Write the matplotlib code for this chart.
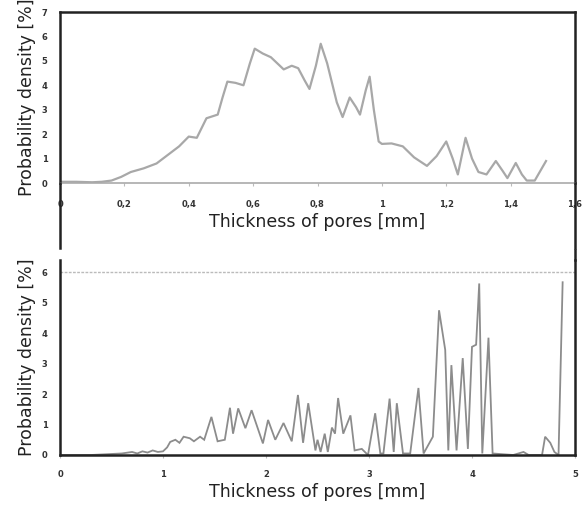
import matplotlib
matplotlib.use("Agg")
import matplotlib.pyplot as plt
from matplotlib.lines import Line2D

# ---- data (top panel) ----
top_x = [0, 0.05, 0.1, 0.13, 0.16, 0.19, 0.22, 0.26, 0.3, 0.34, 0.37, 0.4, 0.425,
         0.455, 0.49, 0.505, 0.52, 0.545, 0.57, 0.59, 0.605, 0.63, 0.655, 0.675,
         0.695, 0.72, 0.74, 0.76, 0.775, 0.795, 0.81, 0.83, 0.86, 0.878, 0.9, 0.92,
         0.932, 0.95, 0.962, 0.975, 0.99, 1.0, 1.03, 1.065, 1.1, 1.14, 1.17, 1.2,
         1.22, 1.236, 1.26, 1.28, 1.3, 1.325, 1.354, 1.375, 1.39, 1.416, 1.435,
         1.45, 1.475, 1.51]
top_y = [0.05, 0.05, 0.03, 0.05, 0.1, 0.25, 0.45, 0.6, 0.8, 1.2, 1.5, 1.9, 1.85,
         2.65, 2.8, 3.5, 4.15, 4.1, 4.0, 4.9, 5.5, 5.3, 5.15, 4.9,
         4.65, 4.8, 4.7, 4.2, 3.85, 4.8, 5.7, 4.9, 3.3, 2.7, 3.5, 3.1,
         2.8, 3.8, 4.35, 3.0, 1.7, 1.6, 1.62, 1.5, 1.05, 0.7, 1.1, 1.7,
         1.0, 0.35, 1.85, 1.0, 0.45, 0.35, 0.9, 0.5, 0.2, 0.82, 0.35,
         0.1, 0.1, 0.9]
top_xticks = [0, 0.2, 0.4, 0.6, 0.8, 1.0, 1.2, 1.4, 1.6]
top_xticklabels = ["0", "0,2", "0,4", "0,6", "0,8", "1", "1,2", "1,4", "1,6"]
top_yticks = [0, 1, 2, 3, 4, 5, 6, 7]

# ---- data (bottom panel) ----
bot_x = [0, 0.3, 0.6, 0.7, 0.75, 0.8, 0.85, 0.9, 0.95, 1.0, 1.04, 1.07, 1.12,
         1.16, 1.2, 1.26, 1.3, 1.36, 1.4, 1.47, 1.53, 1.6, 1.65, 1.68, 1.73,
         1.8, 1.86, 1.97, 2.02, 2.09, 2.17, 2.25, 2.31, 2.36, 2.41, 2.48, 2.5,
         2.53, 2.57, 2.6, 2.64, 2.67, 2.7, 2.75, 2.82, 2.86, 2.93, 2.99, 3.06,
         3.11, 3.14, 3.2, 3.24, 3.27, 3.33, 3.4, 3.48, 3.53, 3.62, 3.68, 3.74,
         3.77, 3.8, 3.85, 3.91, 3.96, 4.0, 4.04, 4.07, 4.1, 4.16, 4.2, 4.4, 4.5,
         4.55, 4.68, 4.71, 4.76, 4.8, 4.84, 4.88]
bot_y = [0.0, 0.0, 0.05, 0.1, 0.05, 0.12, 0.08, 0.15, 0.1, 0.12, 0.25, 0.43, 0.5,
         0.4, 0.6, 0.55, 0.45, 0.6, 0.5, 1.25, 0.45, 0.5, 1.55, 0.7, 1.53,
         0.88, 1.47, 0.38, 1.15, 0.5, 1.05, 0.45, 1.97, 0.4, 1.7, 0.15, 0.5,
         0.1, 0.7, 0.1, 0.9, 0.7, 1.87, 0.7, 1.3, 0.15, 0.2, 0.0, 1.37,
         0.05, 0.05, 1.85, 0.1, 1.7, 0.05, 0.05, 2.2, 0.05, 0.6, 4.75, 3.45,
         0.15, 2.95, 0.15, 3.18, 0.2, 3.55, 3.62, 5.63, 0.05, 3.85, 0.05, 0.0, 0.1,
         0.0, 0.0, 0.6, 0.4, 0.1, 0.0, 5.67]
bot_xticks = [0, 1, 2, 3, 4, 5]
bot_yticks = [0, 1, 2, 3, 4, 5, 6]

W, H = 588, 507
fig = plt.figure(figsize=(W / 100, H / 100), dpi=100)
plt.rcParams['font.family'] = ['DejaVu Sans']

def fx(px):
    return px / W

def fy(py):
    return 1 - py / H

label_kw = dict(fontsize=12.5, family='DejaVu Sans', color='#222222')
tick_kw = dict(labelsize=6, labelcolor='#333333')

# ---- top axes ----
ax1 = fig.add_axes([fx(60), fy(183), fx(575) - fx(60), fy(12) - fy(183)])
ax1.plot(top_x, top_y, color='#a8a8a8', lw=1.6, solid_joinstyle='round')
ax1.set_xlim(0, 1.6)
ax1.set_ylim(0, 7)
ax1.set_xticks(top_xticks)
ax1.set_xticklabels(top_xticklabels, fontweight='bold')
ax1.set_yticks(top_yticks)
ax1.set_yticklabels([str(v) for v in top_yticks], fontweight='bold')
ax1.tick_params(axis='x', length=2, color='#bbbbbb', pad=10, **tick_kw)
ax1.tick_params(axis='y', length=0, pad=9, **tick_kw)
for s in ['top', 'left', 'right']:
    ax1.spines[s].set_color('#222222')
    ax1.spines[s].set_linewidth(1.8)
ax1.spines['bottom'].set_color('#aaaaaa')
ax1.spines['bottom'].set_linewidth(1.2)
ax1.set_xlabel("Thickness of pores [mm]", labelpad=3, **label_kw)
ax1.set_ylabel("Probability density [%]", labelpad=4, **label_kw)

# ---- bottom axes ----
ax2 = fig.add_axes([fx(60), fy(455), fx(575) - fx(60), fy(260) - fy(455)])
ax2.plot(bot_x, bot_y, color='#8c8c8c', lw=1.3, solid_joinstyle='miter')
ax2.axhline(6, color='#bbbbbb', lw=1.0, ls=(0, (2, 1)))
ax2.set_xlim(0, 5)
ax2.set_ylim(0, 6.4)
ax2.set_xticks(bot_xticks)
ax2.set_xticklabels([str(v) for v in bot_xticks], fontweight='bold')
ax2.set_yticks(bot_yticks)
ax2.set_yticklabels([str(v) for v in bot_yticks], fontweight='bold')
ax2.tick_params(axis='x', length=2, color='#bbbbbb', pad=9, **tick_kw)
ax2.tick_params(axis='y', length=0, pad=9, **tick_kw)
ax2.spines['top'].set_visible(False)
for s in ['left', 'right', 'bottom']:
    ax2.spines[s].set_color('#222222')
    ax2.spines[s].set_linewidth(1.8)
ax2.set_xlabel("Thickness of pores [mm]", labelpad=3, **label_kw)
ax2.set_ylabel("Probability density [%]", labelpad=4, **label_kw)

# frame extensions between panels
fig.add_artist(Line2D([fx(60), fx(60)], [fy(183), fy(248)], color='#222222', lw=1.8))
fig.add_artist(Line2D([fx(575), fx(575)], [fy(183), fy(248)], color='#222222', lw=1.8))
fig.add_artist(Line2D([fx(575), fx(575)], [fy(260), fy(250)], color='#222222', lw=1.8))

fig.savefig("out.png", dpi=100)
